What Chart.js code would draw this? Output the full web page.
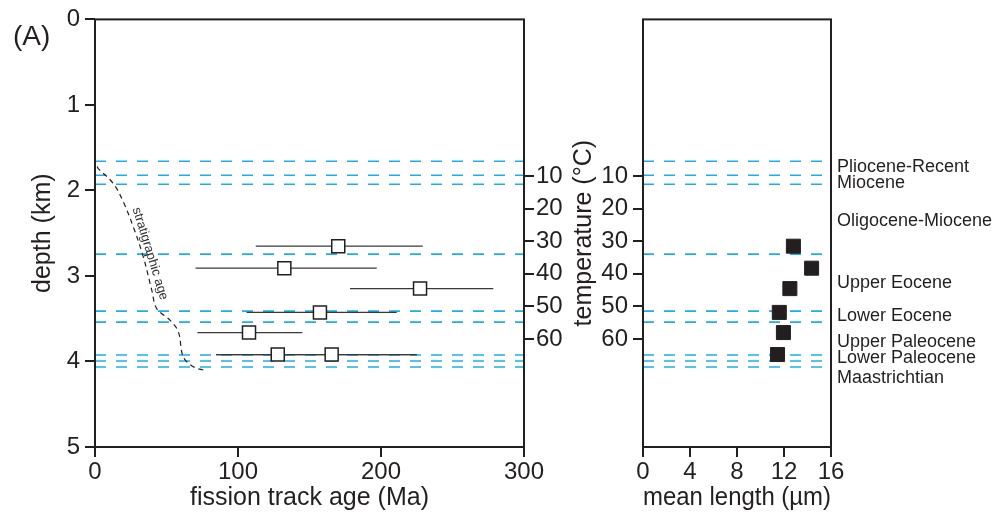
<!DOCTYPE html>
<html>
<head>
<meta charset="utf-8">
<script src="https://cdn.jsdelivr.net/npm/chart.js@4.4.1/dist/chart.umd.min.js"></script>
<style>
  html, body { margin: 0; padding: 0; background: #fff; }
  #wrap { position: relative; width: 1003px; height: 520px; overflow: hidden; }
  #wrap canvas { position: absolute; top: 0; }
  #ftAge { left: 0; }
  #ftLen { left: 565px; }
</style>
</head>
<body>
<div id="wrap">
  <canvas id="ftAge" width="565" height="520"></canvas>
  <canvas id="ftLen" width="438" height="520"></canvas>
</div>
<script>
// ==========================================
// 1. DATA
// ==========================================
// fission track ages (Ma) with their error ranges, per sample depth (km)
const sampleDepth = [2.652, 2.909, 3.148, 3.426, 3.662, 3.919, 3.919];
const sampleAge   = [170.1, 132.4, 227.3, 157.3, 107.7, 127.8, 165.5];
const ageLow      = [112.4, 70.3, 178.3, 106.0, 71.6, 84.6, 84.6];
const ageHigh     = [229.2, 197.0, 278.5, 211.0, 145.0, 225.0, 225.0];

// mean track lengths (µm)
const lengthDepth = [2.652, 2.909, 3.148, 3.426, 3.662, 3.919];
const meanLength  = [12.8, 14.35, 12.5, 11.6, 11.95, 11.45];

// stratigraphic age curve
const stratAge   = [1.5, 2.3, 12.8, 19.8, 26.8, 33.8, 39.7, 43.1, 52.4, 58.3, 61.7, 68.7, 75.7];
const stratDepth = [1.72, 1.744, 1.919, 2.134, 2.426, 2.777, 3.166, 3.380, 3.516, 3.653, 3.945, 4.062, 4.100];
const stratLabelAt = [38.5, 2.74];

// formation boundaries (km)
const boundaryDepth = [1.659, 1.822, 1.928, 2.745, 3.411, 3.540, 3.925, 3.995, 4.065];

const epochNames = ['Pliocene-Recent', 'Miocene', 'Oligocene-Miocene', 'Upper Eocene',
                    'Lower Eocene', 'Upper Paleocene', 'Lower Paleocene', 'Maastrichtian'];
const epochDepth = [1.732, 1.912, 2.356, 3.081, 3.466, 3.770, 3.964, 4.197];

// axes
const depthTicks  = [0, 1, 2, 3, 4, 5];
const ageTicks    = [0, 100, 200, 300];
const lengthTicks = [0, 4, 8, 12, 16];
const tempTicks   = [10, 20, 30, 40, 50, 60];
const tempRange   = [-38.1, 93.2]; // temperature at 0 km and at 5 km

// ==========================================
// 2. HELPERS
// ==========================================
const INK = '#231f20';
const CYAN = '#1eaee6';
const FONT = "'Liberation Sans', Arial, Helvetica, sans-serif";

Chart.defaults.font.family = FONT;
Chart.defaults.color = INK;

const fixTicks  = vals => scale => { scale.ticks = vals.map(v => ({ value: v })); };
const fixWidth  = w => scale => { scale.width = w; };
const fixHeight = h => scale => { scale.height = h; };
const tickGrid  = () => ({ display: true, drawOnChartArea: false, drawTicks: true, tickLength: 10, lineWidth: 2, color: INK });

const boundarySets = (xMin, xMax) => boundaryDepth.map(d => ({
  type: 'line',
  data: [{ x: xMin, y: d }, { x: xMax, y: d }],
  borderColor: CYAN, borderWidth: 1.6, borderDash: [11, 10],
  pointRadius: 0, order: 5
}));

const panelFrame = {
  id: 'panelFrame',
  afterDatasetsDraw(chart) {
    const { ctx, chartArea: a } = chart;
    ctx.save();
    ctx.strokeStyle = INK;
    ctx.lineWidth = 2;
    ctx.strokeRect(a.left, a.top, a.right - a.left, a.bottom - a.top);
    ctx.restore();
  }
};

const ageNotes = {
  id: 'ageNotes',
  afterDraw(chart) {
    const { ctx, scales } = chart;
    ctx.save();
    ctx.fillStyle = INK;
    ctx.font = '28px ' + FONT;
    ctx.textBaseline = 'middle';
    ctx.fillText('(A)', 13, 37);

    const x = scales.x.getPixelForValue(stratLabelAt[0]);
    const y = scales.y.getPixelForValue(stratLabelAt[1]);
    ctx.translate(x, y);
    ctx.rotate(73 * Math.PI / 180);
    ctx.font = '13px ' + FONT;
    ctx.fillStyle = '#333';
    ctx.textAlign = 'center';
    ctx.fillText('stratigraphic age', 0, 0);
    ctx.restore();
  }
};

const epochLabels = {
  id: 'epochLabels',
  afterDraw(chart) {
    const { ctx, chartArea, scales } = chart;
    ctx.save();
    ctx.font = '18px ' + FONT;
    ctx.fillStyle = INK;
    ctx.textBaseline = 'middle';
    epochNames.forEach((n, i) => {
      ctx.fillText(n, chartArea.right + 6, scales.y.getPixelForValue(epochDepth[i]));
    });
    ctx.restore();
  }
};

// ==========================================
// 3. CHARTS
// ==========================================
const errorSets = sampleDepth.map((d, i) => ({
  type: 'line',
  data: [{ x: ageLow[i], y: d }, { x: ageHigh[i], y: d }],
  borderColor: '#3a3a3a', borderWidth: 1.3, pointRadius: 0, order: 2
}));

new Chart(document.getElementById('ftAge'), {
  type: 'scatter',
  data: {
    datasets: [
      {
        data: sampleAge.map((a, i) => ({ x: a, y: sampleDepth[i] })),
        pointStyle: 'rect', pointRadius: 9.2,
        backgroundColor: '#fff', borderColor: INK, borderWidth: 1.5, order: 0
      },
      {
        type: 'line',
        data: stratAge.map((a, i) => ({ x: a, y: stratDepth[i] })),
        borderColor: INK, borderWidth: 1.2, borderDash: [5, 4],
        pointRadius: 0, tension: 0.35, order: 1
      },
      ...errorSets,
      ...boundarySets(0, 300)
    ]
  },
  options: {
    responsive: false, animation: false, events: [],
    layout: { padding: { top: 19, left: 0, right: 0, bottom: 0 } },
    plugins: { legend: { display: false }, tooltip: { enabled: false } },
    scales: {
      x: {
        type: 'linear', min: 0, max: 300,
        afterBuildTicks: fixTicks(ageTicks), afterFit: fixHeight(73),
        grid: tickGrid(), border: { display: false },
        ticks: { font: { size: 24 }, padding: 1, color: INK },
        title: { display: true, text: 'fission track age (Ma)', color: INK, font: { size: 25 }, padding: { top: 0, bottom: 7 } }
      },
      y: {
        type: 'linear', position: 'left', reverse: true, min: 0, max: 5,
        afterBuildTicks: fixTicks(depthTicks), afterFit: fixWidth(95),
        grid: tickGrid(), border: { display: false },
        ticks: { font: { size: 24 }, padding: 5, color: INK },
        title: { display: true, text: 'depth (km)', color: INK, font: { size: 25 }, padding: { top: 28, bottom: 0 } }
      },
      temp: {
        type: 'linear', position: 'right', reverse: true, min: tempRange[0], max: tempRange[1],
        afterBuildTicks: fixTicks(tempTicks), afterFit: fixWidth(41),
        grid: tickGrid(), border: { display: false },
        ticks: { font: { size: 24 }, padding: 2, color: INK }
      }
    }
  },
  plugins: [panelFrame, ageNotes]
});

new Chart(document.getElementById('ftLen'), {
  type: 'scatter',
  data: {
    datasets: [
      {
        data: meanLength.map((l, i) => ({ x: l, y: lengthDepth[i] })),
        pointStyle: 'rect', pointRadius: 9.9,
        backgroundColor: INK, borderColor: INK, borderWidth: 1, order: 0
      },
      ...boundarySets(0, 16)
    ]
  },
  options: {
    responsive: false, animation: false, events: [],
    layout: { padding: { top: 19, left: 0, right: 172, bottom: 0 } },
    plugins: { legend: { display: false }, tooltip: { enabled: false } },
    scales: {
      x: {
        type: 'linear', min: 0, max: 16,
        afterBuildTicks: fixTicks(lengthTicks), afterFit: fixHeight(73),
        grid: tickGrid(), border: { display: false },
        ticks: { font: { size: 24 }, padding: 1, color: INK },
        title: { display: true, text: 'mean length (µm)', color: INK, font: { size: 25 }, padding: { top: 0, bottom: 7 } }
      },
      y: { type: 'linear', display: false, reverse: true, min: 0, max: 5 },
      temp: {
        type: 'linear', position: 'left', reverse: true, min: tempRange[0], max: tempRange[1],
        afterBuildTicks: fixTicks(tempTicks), afterFit: fixWidth(78),
        grid: tickGrid(), border: { display: false },
        ticks: { font: { size: 24 }, padding: 5, color: INK },
        title: { display: true, text: 'temperature (°C)', color: INK, font: { size: 25 }, padding: { top: 4, bottom: 0 } }
      }
    }
  },
  plugins: [panelFrame, epochLabels]
});
</script>
</body>
</html>
